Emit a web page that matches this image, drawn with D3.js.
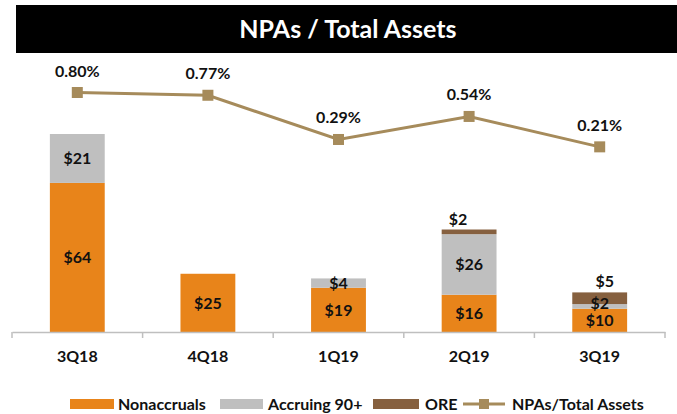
<!DOCTYPE html>
<html><head><meta charset="utf-8">
<script src="https://cdn.jsdelivr.net/npm/d3@7"></script>
<style>body{margin:0;background:#fff}svg{display:block}text{font-family:Lato,"Open Sans",sans-serif;font-weight:bold}</style>
</head><body>
<svg id="c" width="677" height="414"></svg>
<script>
const categories = ["3Q18","4Q18","1Q19","2Q19","3Q19"];
const nonaccruals = [64,25,19,16,10];
const accruing90 = [21,0,4,26,2];
const ore = [0,0,0,2,5];
const npaRatio = [0.80,0.77,0.29,0.54,0.21];
const ratioLabels = ["0.80%","0.77%","0.29%","0.54%","0.21%"];
const seriesNames = ["Nonaccruals","Accruing 90+","ORE","NPAs/Total Assets"];
const colors = {non:"#E8841A", acc:"#BFBFBF", ore:"#86603F", line:"#A68B5B"};

const svg = d3.select("#c");
// title bar
svg.append("rect").attr("x",16).attr("y",5).attr("width",661).attr("height",48).attr("fill","#000");
svg.append("text").attr("x",348).attr("y",38).attr("text-anchor","middle").attr("fill","#fff")
  .attr("font-size",25).text("NPAs / Total Assets");

const base = 332;
const x = d3.scaleBand().domain(categories).range([12,665]).paddingInner(0.58).paddingOuter(0.29);
const y = d3.scaleLinear().domain([0,85]).range([base,134]);
const y2 = d3.scaleLinear().domain([-1.8,0.8]).range([base,92.5]);

const rows = categories.map((c,i)=>({c, non:nonaccruals[i], acc:accruing90[i], ore:ore[i]}));
const stack = d3.stack().keys(["non","acc","ore"])(rows);
const g = svg.append("g");
stack.forEach(s=>{
  g.selectAll(null).data(s).enter().append("rect")
    .attr("x",d=>x(d.data.c)).attr("width",x.bandwidth())
    .attr("y",d=>y(d[1])).attr("height",d=>y(d[0])-y(d[1]))
    .attr("fill",colors[s.key]);
});

// axis
const axis = d3.axisBottom(x).tickSize(0).tickFormat("");
const ax = svg.append("g").attr("transform",`translate(0,${base})`).call(axis);
ax.select(".domain").attr("stroke","#BFBFBF").attr("stroke-width",1.5);
const step = x.step();
svg.selectAll(".tk").data(d3.range(categories.length+1)).enter().append("line")
  .attr("x1",i=>x(categories[0])+x.bandwidth()/2 - step/2 + i*step)
  .attr("x2",i=>x(categories[0])+x.bandwidth()/2 - step/2 + i*step)
  .attr("y1",base).attr("y2",base+6).attr("stroke","#BFBFBF").attr("stroke-width",1.5);
svg.selectAll(".xl").data(categories).enter().append("text")
  .attr("x",d=>x(d)+x.bandwidth()/2).attr("y",362).attr("text-anchor","middle")
  .attr("font-size",16).attr("fill","#111").text(d=>d);

// bar labels
const lab = svg.append("g").attr("font-size",16).attr("fill","#111").attr("text-anchor","middle");
const oreDx = [0,0,0,-11,5];
rows.forEach((r,i)=>{
  const cx = x(r.c)+x.bandwidth()/2;
  if(r.non>0) lab.append("text").attr("x",cx).attr("y",(y(0)+y(r.non))/2+6).text("$"+r.non);
  if(r.acc>0) lab.append("text").attr("x",cx).attr("y",(y(r.non)+y(r.non+r.acc))/2+(r.acc<3?3:6)).text("$"+r.acc);
  if(r.ore>0) lab.append("text").attr("x",cx+oreDx[i]).attr("y",y(r.non+r.acc+r.ore)-5).text("$"+r.ore);
});

// line
const lx = i=>x(categories[i])+x.bandwidth()/2;
svg.append("path").datum(npaRatio).attr("fill","none").attr("stroke",colors.line).attr("stroke-width",3)
  .attr("d",d3.line().x((d,i)=>lx(i)).y(d=>y2(d)));
svg.selectAll(".mk").data(npaRatio).enter().append("rect")
  .attr("x",(d,i)=>lx(i)-5.5).attr("y",d=>y2(d)-5.5).attr("width",11).attr("height",11).attr("fill",colors.line);
svg.selectAll(".pl").data(npaRatio).enter().append("text")
  .attr("x",(d,i)=>lx(i)).attr("y",d=>y2(d)-16).attr("text-anchor","middle")
  .attr("font-size",16).attr("fill","#111").text((d,i)=>ratioLabels[i]);

// legend
const lg = svg.append("g").attr("font-size",16).attr("fill","#111");
const ly = 404;
const items = [
  {x:70, w:44, c:colors.non, tx:118},
  {x:220, w:43, c:colors.acc, tx:268},
  {x:373, w:46, c:colors.ore, tx:425}
];
items.forEach((it,i)=>{
  lg.append("rect").attr("x",it.x).attr("y",ly-5).attr("width",it.w).attr("height",10).attr("fill",it.c);
  lg.append("text").attr("x",it.tx).attr("y",ly+6).text(seriesNames[i]);
});
lg.append("line").attr("x1",463).attr("x2",505).attr("y1",ly).attr("y2",ly).attr("stroke",colors.line).attr("stroke-width",3);
lg.append("rect").attr("x",479).attr("y",ly-5).attr("width",10).attr("height",10).attr("fill",colors.line);
lg.append("text").attr("x",512).attr("y",ly+6).text(seriesNames[3]);
</script>
</body></html>
